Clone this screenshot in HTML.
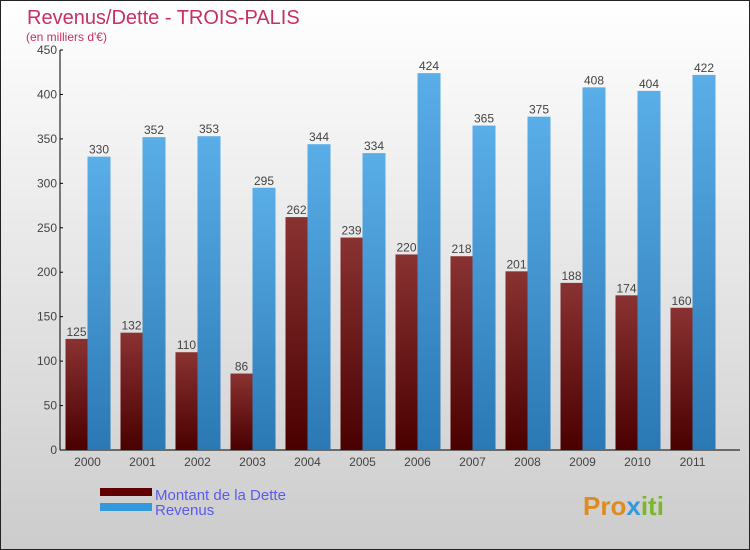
<!DOCTYPE html>
<html><head><meta charset="utf-8"><style>
body{margin:0;width:750px;height:550px;overflow:hidden;font-family:"Liberation Sans",sans-serif}
svg{display:block}
</style></head><body>
<svg id="chart" width="750" height="550">
<defs>
<linearGradient id="bg" x1="0" y1="0" x2="0" y2="1"><stop offset="0" stop-color="#ffffff"/><stop offset="1" stop-color="#cccccc"/></linearGradient>
<linearGradient id="gd" x1="0" y1="0" x2="0" y2="1"><stop offset="0" stop-color="#8a3232"/><stop offset="1" stop-color="#4a0000"/></linearGradient>
<linearGradient id="gr" x1="0" y1="0" x2="0" y2="1"><stop offset="0" stop-color="#5aaee8"/><stop offset="1" stop-color="#2a78b4"/></linearGradient>
</defs>
<rect x="0.5" y="0.5" width="749" height="549" fill="url(#bg)" stroke="#222"/>
<text x="27" y="24" font-size="20" fill="#c8305f">Revenus/Dette - TROIS-PALIS</text>
<text x="26" y="41" font-size="12" fill="#c8305f">(en milliers d'€)</text>
<g id="axes"></g><g id="bars"></g>
<rect x="100" y="488" width="52" height="8" fill="#600000"/>
<rect x="100" y="503" width="52" height="8" fill="#3399dd"/>
<text x="155" y="500" font-size="15" fill="#5a5aee">Montant de la Dette</text>
<text x="155" y="515" font-size="15" fill="#5a5aee">Revenus</text>
<text x="583" y="515" font-size="26" font-weight="bold" fill="#e08a20">Pro<tspan fill="#3399dd">x</tspan><tspan fill="#7ab82a">iti</tspan></text>
</svg>
<script>
const years=["2000","2001","2002","2003","2004","2005","2006","2007","2008","2009","2010","2011"];
const debt=[125,132,110,86,262,239,220,218,201,188,174,160];
const revenue=[330,352,353,295,344,334,424,365,375,408,404,422];
const yTicks=[0,50,100,150,200,250,300,350,400,450];
const NS="http://www.w3.org/2000/svg";
const x0=60,x1=740,y0=450,yTop=50,yMax=450;
const y=v=>y0-(v/yMax)*(y0-yTop);
const band=(x1-x0-10)/years.length;
const cx=i=>x0+5+band*(i+0.5)-(band/2-22)+ (band/2-22);
function mk(t,a,p){const e=document.createElementNS(NS,t);for(const k in a)e.setAttribute(k,a[k]);(p||document.getElementById('bars')).appendChild(e);return e;}
const ax=document.getElementById('axes');
let l=mk('line',{x1:x0,y1:yTop,x2:x0,y2:y0,stroke:'#000'},ax);


l=mk('line',{x1:x0,y1:y0,x2:x1,y2:y0,stroke:'#000'},ax);


yTicks.forEach(v=>{
 mk('line',{x1:x0,y1:y(v),x2:x0+3,y2:y(v),stroke:'#000'},ax);
 const t=mk('text',{x:x0-3,y:y(v)+4,'font-size':12,'text-anchor':'end',fill:'#444'},ax);
 t.textContent=v;
 
 
});
years.forEach((yr,i)=>{
 const c=x0+27.5+55*i;
 const t=mk('text',{x:c,y:y0+16,'font-size':12,'text-anchor':'middle',fill:'#444'},ax);
 t.textContent=yr;
 
 
 const b1=mk('rect',{x:c-22,y:y(debt[i]),width:22,height:y0-y(debt[i]),fill:'url(#gd)'});
 
 
 const b2=mk('rect',{x:c,y:y(revenue[i]),width:23,height:y0-y(revenue[i]),fill:'url(#gr)'});
 
 
 const l1=mk('text',{x:c-11,y:y(debt[i])-3,'font-size':12,'text-anchor':'middle',fill:'#444'});
 l1.textContent=debt[i];
 
 
 const l2=mk('text',{x:c+11.5,y:y(revenue[i])-3,'font-size':12,'text-anchor':'middle',fill:'#444'});
 l2.textContent=revenue[i];
 
 
});
</script>
</body></html>
